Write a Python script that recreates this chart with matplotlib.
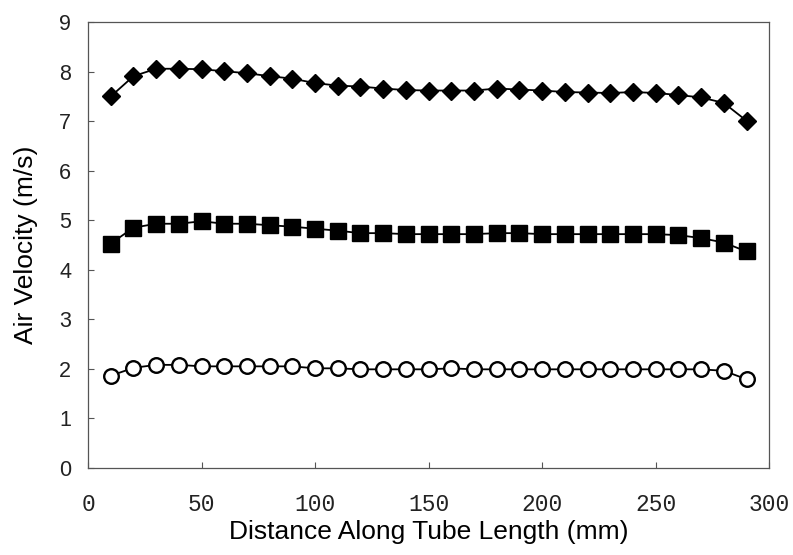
import matplotlib
matplotlib.use("Agg")
import matplotlib.pyplot as plt

# distance along tube (mm)
distance = list(range(10, 300, 10))

# air velocity (m/s) for the three runs
high = [7.50, 7.91, 8.06, 8.06, 8.05, 8.01, 7.97, 7.91, 7.86, 7.77,
        7.72, 7.70, 7.66, 7.63, 7.62, 7.62, 7.62, 7.66, 7.64, 7.62,
        7.59, 7.58, 7.57, 7.59, 7.57, 7.53, 7.48, 7.37, 7.01]
medium = [4.53, 4.85, 4.93, 4.93, 4.98, 4.93, 4.93, 4.90, 4.87, 4.83,
          4.79, 4.74, 4.74, 4.72, 4.72, 4.72, 4.72, 4.74, 4.74, 4.72,
          4.72, 4.72, 4.72, 4.72, 4.72, 4.70, 4.64, 4.55, 4.37]
low = [1.86, 2.02, 2.08, 2.08, 2.05, 2.05, 2.05, 2.05, 2.05, 2.01,
       2.01, 1.99, 1.99, 1.99, 1.99, 2.01, 1.99, 1.99, 1.99, 1.99,
       1.99, 1.99, 1.99, 1.99, 1.99, 1.99, 1.99, 1.96, 1.79]

fig = plt.figure(figsize=(7.93, 5.55), dpi=100)
ax = fig.add_axes([0.111, 0.157, 0.859, 0.803])

ax.plot(distance, high, color="black", lw=1.3, marker="D", markersize=9.5)
ax.plot(distance, medium, color="black", lw=1.3, marker="s", markersize=11)
ax.plot(distance, low, color="black", lw=1.3, marker="o", markersize=10.5,
        markerfacecolor="white", markeredgewidth=1.7)

ax.set_xlim(0, 300)
ax.set_ylim(0, 9)
ax.set_xticks(range(0, 301, 50))
ax.set_yticks(range(0, 10))
ax.tick_params(direction="in", length=4, width=0.8, color="#555555")
ax.tick_params(axis="x", pad=18)
ax.tick_params(axis="y", pad=12)
for lab in ax.get_xticklabels():
    lab.set_family("Liberation Mono")
    lab.set_fontsize(16.5)
    lab.set_color("#222222")
for lab in ax.get_yticklabels():
    lab.set_family("Liberation Sans")
    lab.set_fontsize(15.5)
    lab.set_color("#222222")
for sp in ax.spines.values():
    sp.set_color("#555555")
    sp.set_linewidth(0.9)

ax.set_xlabel("Distance Along Tube Length (mm)", family="Liberation Sans",
              fontsize=19, labelpad=3)
ax.set_ylabel("Air Velocity (m/s)", family="Liberation Sans",
              fontsize=19, labelpad=15)

fig.savefig("out.png", dpi=100)
